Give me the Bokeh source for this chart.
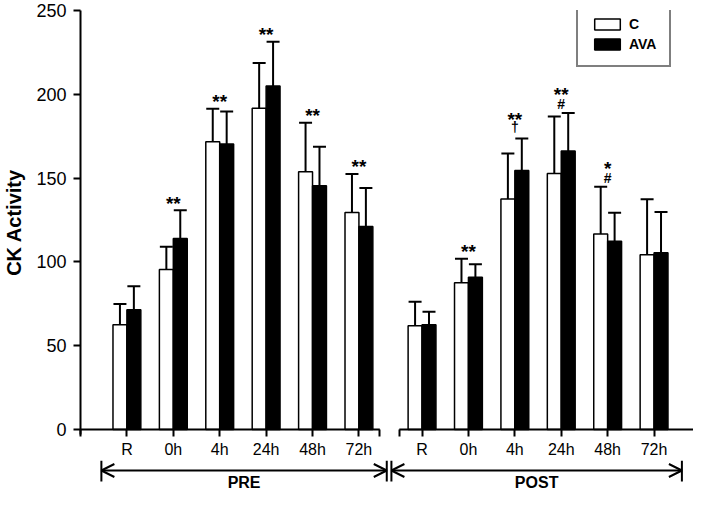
import numpy as np
from bokeh.plotting import figure
from bokeh.models import (ColumnDataSource, Range1d, FixedTicker, Arrow, OpenHead,
                          Legend, LegendItem)
from bokeh.layouts import column
from bokeh.embed import file_html
from bokeh.resources import INLINE
from bokeh.core.properties import value

# ---------------- data ----------------
times = ["R", "0h", "4h", "24h", "48h", "72h"]
phases = ["PRE", "POST"]
series = ["C", "AVA"]

pre_c_mean = [62.5, 95.4, 171.7, 191.7, 153.8, 129.5]
pre_c_sd = [12.3, 13.7, 19.7, 26.9, 29.2, 23.0]
pre_ava_mean = [71.4, 113.9, 170.4, 204.9, 145.5, 121.1]
pre_ava_sd = [14.1, 16.9, 19.4, 26.4, 23.2, 23.0]

post_c_mean = [61.9, 87.6, 137.5, 152.7, 116.7, 104.3]
post_c_sd = [14.3, 14.3, 27.2, 34.1, 28.2, 33.0]
post_ava_mean = [62.5, 90.8, 154.6, 166.2, 112.3, 105.5]
post_ava_sd = [7.8, 7.8, 19.0, 22.7, 17.0, 24.2]

pre_sig = ["", "**", "**", "**", "**", "**"]
post_sig = ["", "**", "**", "**", "*", ""]
post_sig2 = ["", "", "\u2020", "#", "#", ""]

y_ticks = [0, 50, 100, 150, 200, 250]

# ---------------- layout helpers ----------------
FONT = "Liberation Sans"
n = len(times)
GAP = 0.36
W = 0.3
CAPW = 0.14
X_END = 13.21
pre_x = np.arange(n) + 1.0
post_x = np.arange(n) + 1.0 + n + GAP
xs = np.concatenate([pre_x, post_x])

c_mean = np.array(pre_c_mean + post_c_mean)
c_sd = np.array(pre_c_sd + post_c_sd)
a_mean = np.array(pre_ava_mean + post_ava_mean)
a_sd = np.array(pre_ava_sd + post_ava_sd)

TOP_B, BOT_B, TOP_H = 10, 25, 460
FRAME_H = TOP_H - TOP_B - BOT_B
p = figure(width=693, height=TOP_H, x_range=Range1d(0, X_END), y_range=Range1d(-3, 250),
           output_backend="svg", toolbar_location=None,
           min_border_left=72, min_border_right=0, min_border_top=TOP_B,
           min_border_bottom=BOT_B)
p.outline_line_color = None
p.xgrid.visible = False
p.ygrid.visible = False

renderers = []
for mean, sd, fill, off in [(c_mean, c_sd, "white", -W / 2), (a_mean, a_sd, "black", W / 2)]:
    bx = xs + off
    src = ColumnDataSource(dict(x=bx, top=mean, cap=mean + sd, xl=bx - CAPW, xr=bx + CAPW))
    r = p.vbar(x="x", top="top", bottom=0, width=W, fill_color=fill, line_color="black",
               line_width=1.5, source=src)
    renderers.append(r)
    p.segment(x0="x", y0="top", x1="x", y1="cap", line_color="black", line_width=2, source=src)
    p.segment(x0="xl", y0="cap", x1="xr", y1="cap", line_color="black", line_width=2, source=src)

# x axis: broken baseline
pre_end = pre_x[-1] + 0.45
post_start = post_x[0] - 0.49
p.segment(x0=[0.0, post_start], y0=[0, 0], x1=[pre_end, X_END], y1=[0, 0],
          line_color="black", line_width=2)

end_ticks = [0.0, float(pre_end), float(post_start)]
ticks = sorted([float(t) for t in xs] + end_ticks)
overrides = {float(t): lab for t, lab in zip(xs, times * 2)}
for t in end_ticks:
    overrides[t] = ""
xa = p.xaxis[0]
xa.ticker = FixedTicker(ticks=ticks)
xa.major_label_overrides = overrides
xa.axis_line_color = None
xa.major_tick_in = 5
xa.major_tick_out = 2
xa.major_tick_line_width = 2
xa.minor_tick_line_color = None
xa.major_label_text_font = FONT
xa.major_label_text_font_size = "16px"
xa.major_label_text_color = "black"
xa.major_label_standoff = 4

ya = p.yaxis[0]
ya.ticker = FixedTicker(ticks=y_ticks)
ya.axis_line_width = 2
ya.major_tick_in = 0
ya.major_tick_out = 7
ya.major_tick_line_width = 2
ya.minor_tick_line_color = None
ya.major_label_text_font = FONT
ya.major_label_text_font_size = "18px"
ya.major_label_text_color = "black"
ya.major_label_standoff = 7
ya.axis_label = "CK Activity"
ya.axis_label_text_font = FONT
ya.axis_label_text_font_size = "20px"
ya.axis_label_text_font_style = "bold"
ya.axis_label_text_color = "black"
ya.axis_label_standoff = 8

# significance markers
caps_max = np.maximum(c_mean + c_sd, a_mean + a_sd)
sig1 = pre_sig + post_sig
sig2 = [""] * n + post_sig2
off2 = {"": 0, "#": -9, "\u2020": -12}
off1 = [-7 if s == "" else (-19 if s == "\u2020" else -18) for s in sig2]
ann = ColumnDataSource(dict(x=xs, y=caps_max, s1=sig1, s2=sig2, o1=off1,
                            o2=[off2[s] for s in sig2]))
p.text(x="x", y="y", text="s1", y_offset="o1", text_align="center",
       text_baseline="alphabetic", text_font=value(FONT), text_font_size="19px",
       text_font_style="bold", text_color="black", source=ann)
p.text(x="x", y="y", text="s2", y_offset="o2", text_align="center",
       text_baseline="alphabetic", text_font=value(FONT), text_font_size="14px",
       text_font_style="bold", text_color="black", source=ann)

legend = Legend(items=[LegendItem(label=series[0], renderers=[renderers[0]]),
                       LegendItem(label=series[1], renderers=[renderers[1]])],
                location=(496, FRAME_H - 58), glyph_width=32, glyph_height=14, label_height=14,
                label_standoff=6, spacing=4, padding=13, margin=0,
                label_text_font=FONT, label_text_font_size="14px",
                label_text_font_style="bold", label_text_color="black",
                border_line_color="black", border_line_width=2,
                background_fill_color="white", background_fill_alpha=1)
p.add_layout(legend)

# ---------------- bracket strip ----------------
b = figure(width=693, height=30, x_range=p.x_range, y_range=Range1d(0, 30),
           output_backend="svg", toolbar_location=None,
           min_border_left=72, min_border_right=0, min_border_top=0, min_border_bottom=0,
           x_axis_location=None, y_axis_location=None)
b.outline_line_color = None
b.grid.visible = False

lo = [pre_x[0] - 0.55, post_x[0] - 0.66]
hi = [pre_x[-1] + 0.6, post_x[-1] + 0.6]
for l, h in zip(lo, hi):
    b.add_layout(Arrow(x_start=l, y_start=20, x_end=h, y_end=20,
                       start=OpenHead(size=13, line_width=2, line_color="black"),
                       end=OpenHead(size=13, line_width=2, line_color="black"),
                       line_width=2, line_color="black"))
ends = lo + hi
b.segment(x0=ends, y0=[9] * 4, x1=ends, y1=[30] * 4, line_color="black", line_width=2)
b.text(x=[(l + h) / 2 for l, h in zip(lo, hi)], y=[8] * 2, text=phases,
       text_align="center", text_baseline="middle", text_font=value(FONT),
       text_font_size="16px", text_font_style="bold", text_color="black")

layout = column(p, b, spacing=0)
open("out.html", "w").write(file_html(layout, INLINE))
